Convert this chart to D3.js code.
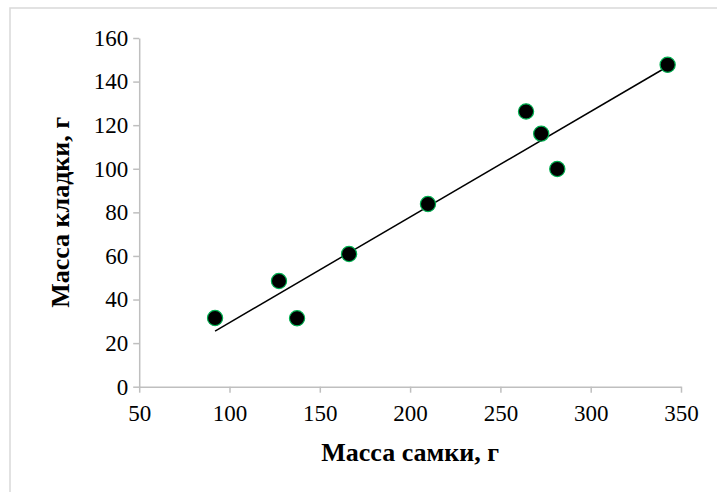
<!DOCTYPE html>
<html>
<head>
<meta charset="utf-8">
<script src="https://cdn.jsdelivr.net/npm/d3@7"></script>
<style>
  html, body { margin: 0; padding: 0; background: #fff; }
  svg { display: block; }
  svg text { font-family: "Times New Roman", "Liberation Serif", serif !important; fill: #000; }
</style>
</head>
<body>
<script>
// Female mass (g) vs. clutch mass (g)
const femaleMass = [92, 127.4, 137.4, 166.2, 209.9, 264.2, 272.6, 281.5, 342.6];
const clutchMass = [31.5, 48.5, 31.4, 60.9, 83.8, 126.3, 116.1, 99.9, 147.7];
const xTicks = [50, 100, 150, 200, 250, 300, 350];
const yTicks = [0, 20, 40, 60, 80, 100, 120, 140, 160];
const xTitle = "Масса самки, г";
const yTitle = "Масса кладки, г";

const W = 717, H = 492;
const plot = { left: 139.2, right: 681, top: 38, bottom: 386.7 };

const svg = d3.select("body").append("svg").attr("width", W).attr("height", H)
  .attr("font-family", "'Times New Roman', 'Liberation Serif', serif");

// chart frame
svg.append("rect")
  .attr("x", 10).attr("y", 8).attr("width", W + 20).attr("height", H + 20)
  .attr("fill", "#fff").attr("stroke", "#d9d9d9").attr("stroke-width", 1.5);

const x = d3.scaleLinear().domain([50, 350]).range([plot.left, plot.right]);
const y = d3.scaleLinear().domain([0, 160]).range([plot.bottom, plot.top]);

const axisColor = "#bfbfbf";

const xAxis = svg.append("g")
  .attr("transform", `translate(0,${plot.bottom})`)
  .call(d3.axisBottom(x).tickValues(xTicks).tickSize(6).tickSizeOuter(0).tickPadding(12));
const yAxis = svg.append("g")
  .attr("transform", `translate(${plot.left},0)`)
  .call(d3.axisLeft(y).tickValues(yTicks).tickSize(6).tickSizeOuter(0).tickPadding(5));

[xAxis, yAxis].forEach(g => {
  g.attr("font-family", null).attr("font-size", null);
  g.select(".domain").attr("stroke", axisColor).attr("stroke-width", 1.5);
  g.selectAll(".tick line").attr("stroke", axisColor).attr("stroke-width", 1.5);
  g.selectAll(".tick text")
    .style("font-size", "23px").attr("fill", "#000");
});

// least-squares trend line over the data range
const n = femaleMass.length;
const mx = d3.mean(femaleMass), my = d3.mean(clutchMass);
let sxy = 0, sxx = 0;
for (let i = 0; i < n; i++) {
  sxy += (femaleMass[i] - mx) * (clutchMass[i] - my);
  sxx += (femaleMass[i] - mx) ** 2;
}
const slope = sxy / sxx, intercept = my - slope * mx;
const [x0, x1] = d3.extent(femaleMass);
svg.append("line")
  .attr("x1", x(x0)).attr("y1", y(intercept + slope * x0))
  .attr("x2", x(x1)).attr("y2", y(intercept + slope * x1))
  .attr("stroke", "#000").attr("stroke-width", 1.5);

// points
svg.append("g").selectAll("circle")
  .data(femaleMass.map((v, i) => [v, clutchMass[i]]))
  .join("circle")
  .attr("cx", d => x(d[0])).attr("cy", d => y(d[1]))
  .attr("r", 7.6)
  .attr("fill", "#000").attr("stroke", "#00b050").attr("stroke-width", 1.2);

// axis titles
svg.append("text")
  .attr("x", (plot.left + plot.right) / 2).attr("y", 461)
  .attr("text-anchor", "middle")
  .style("font-size", "26px").attr("font-weight", "bold")
  .text(xTitle);
svg.append("text")
  .attr("transform", `translate(69,${(plot.top + plot.bottom) / 2}) rotate(-90)`)
  .attr("text-anchor", "middle")
  .style("font-size", "26px").attr("font-weight", "bold")
  .text(yTitle);
</script>
</body>
</html>
